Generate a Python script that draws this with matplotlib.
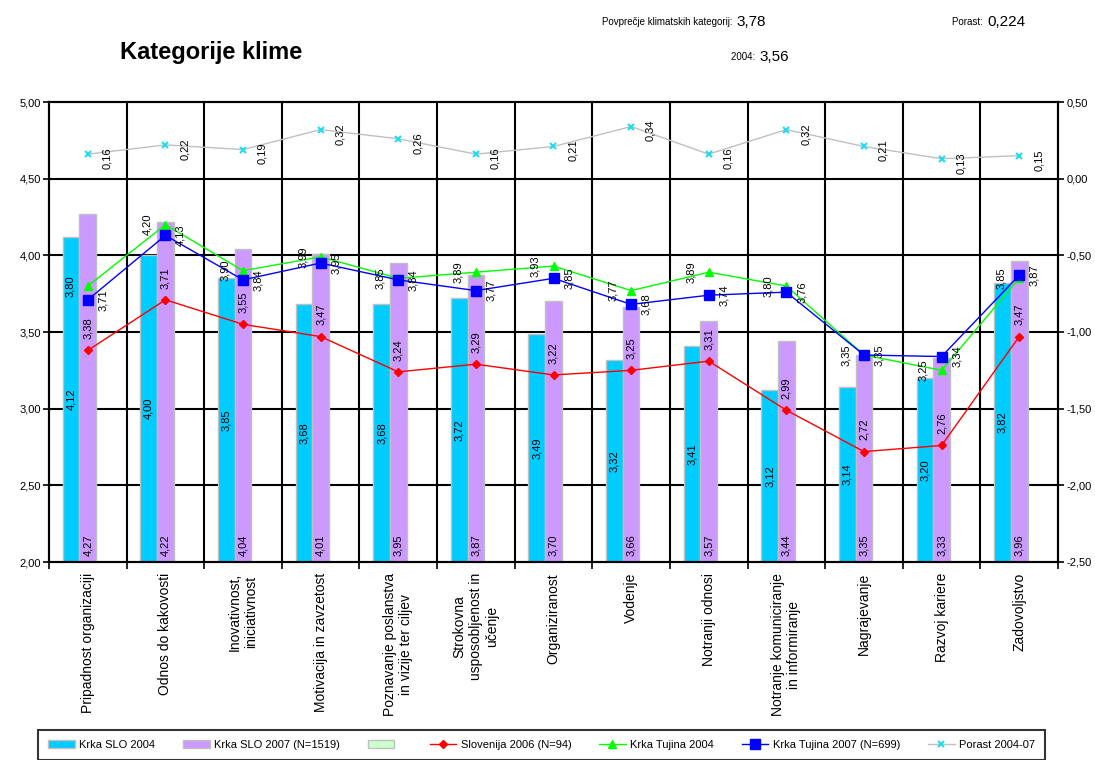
import matplotlib
matplotlib.use("Agg")
import matplotlib.pyplot as plt
from matplotlib.patches import Patch
from matplotlib.lines import Line2D
import numpy as np

plt.rcParams['font.family'] = ['Liberation Sans', 'DejaVu Sans']

# Kategorije
kategorije = [
    "Pripadnost organizaciji",
    "Odnos do kakovosti",
    "Inovativnost,\niniciativnost",
    "Motivacija in zavzetost",
    "Poznavanje poslanstva\nin vizije ter ciljev",
    "Strokovna\nusposobljenost in\nučenje",
    "Organiziranost",
    "Vodenje",
    "Notranji odnosi",
    "Notranje komuniciranje\nin informiranje",
    "Nagrajevanje",
    "Razvoj kariere",
    "Zadovoljstvo",
]

# Stolpci
krka_slo_2004 = [4.12, 4.00, 3.85, 3.68, 3.68, 3.72, 3.49, 3.32, 3.41, 3.12, 3.14, 3.20, 3.82]
krka_slo_2007 = [4.27, 4.22, 4.04, 4.01, 3.95, 3.87, 3.70, 3.66, 3.57, 3.44, 3.35, 3.33, 3.96]

# Črte
slovenija_2006 = [3.38, 3.71, 3.55, 3.47, 3.24, 3.29, 3.22, 3.25, 3.31, 2.99, 2.72, 2.76, 3.47]
krka_tujina_2004 = [3.80, 4.20, 3.90, 3.99, 3.85, 3.89, 3.93, 3.77, 3.89, 3.80, 3.35, 3.25, 3.85]
krka_tujina_2007 = [3.71, 4.13, 3.84, 3.95, 3.84, 3.77, 3.85, 3.68, 3.74, 3.76, 3.35, 3.34, 3.87]

# Porast 2004-07 (desna os)
porast = [0.16, 0.22, 0.19, 0.32, 0.26, 0.16, 0.21, 0.34, 0.16, 0.32, 0.21, 0.13, 0.15]

levi_ticki = [2.00, 2.50, 3.00, 3.50, 4.00, 4.50, 5.00]
desni_ticki = [-2.50, -2.00, -1.50, -1.00, -0.50, 0.00, 0.50]


def fmt(v):
    return f"{v:.2f}".replace('.', ',')


fig = plt.figure(figsize=(10.95, 7.6), dpi=100)
ax = fig.add_axes([49 / 1095, 1 - 562 / 760, 1009 / 1095, 460 / 760])
ax2 = ax.twinx()

x = np.arange(len(kategorije))
sirina = 0.215

ax.bar(x - sirina, [v - 2 for v in krka_slo_2004], sirina, bottom=2,
       color='#00CCFF', edgecolor='#C0C0C0', linewidth=1, zorder=2)
ax.bar(x, [v - 2 for v in krka_slo_2007], sirina, bottom=2,
       color='#CC99FF', edgecolor='#C0C0C0', linewidth=1, zorder=2)

ax.plot(x, slovenija_2006, color='#FF0000', lw=1, marker='D', ms=4, zorder=4)
ax.plot(x, krka_tujina_2004, color='#00FF00', lw=1, marker='^', ms=6, zorder=4)
ax.plot(x, krka_tujina_2007, color='#0000FF', lw=1, marker='s', ms=7, zorder=5)

ax2.plot(x, porast, color='#C0C0C0', lw=1, marker='x', ms=5, mec='#22DDEE', mew=1.5, zorder=4)

# mreža
ax.set_xlim(-0.5, len(kategorije) - 0.5)
ax.set_ylim(2, 5)
ax2.set_ylim(-2.5, 0.5)
ax.set_axisbelow(True)
for y in levi_ticki[1:-1]:
    ax.axhline(y, color='black', lw=1.5, zorder=0)
for b in np.arange(0.5, len(kategorije) - 1, 1):
    ax.axvline(b, color='black', lw=1.5, zorder=0)

ax.set_yticks(levi_ticki)
ax.set_yticklabels([fmt(v) for v in levi_ticki], fontsize=8)
ax2.set_yticks(desni_ticki)
ax2.set_yticklabels([fmt(v) for v in desni_ticki], fontsize=8)
ax.tick_params(axis='y', direction='out', length=4, width=1.2, pad=2)
ax2.tick_params(axis='y', direction='out', length=4, width=1.2, pad=2)

ax.set_xticks(np.arange(-0.5, len(kategorije), 1))
ax.set_xticklabels([])
ax.tick_params(axis='x', direction='out', length=5, width=1.2)
for i, k in enumerate(kategorije):
    ax.annotate(k, (i, 2), xytext=(0, -8), textcoords='offset points',
                rotation=90, ha='center', va='top', multialignment='center',
                fontsize=10, annotation_clip=False)

for s in list(ax.spines.values()) + list(ax2.spines.values()):
    s.set_linewidth(1.5)
    s.set_color('black')

# oznake vrednosti
lab = dict(rotation=90, fontsize=8, textcoords='offset points', zorder=6)
for i in range(len(kategorije)):
    a = krka_slo_2004[i]
    ax.annotate(fmt(a), (i - sirina, (2 + a) / 2), xytext=(0, 0), ha='center', va='center', **lab)
    b = krka_slo_2007[i]
    ax.annotate(fmt(b), (i, 2), xytext=(0, 4), ha='center', va='bottom', **lab)
    ax.annotate(fmt(slovenija_2006[i]), (i, slovenija_2006[i]), xytext=(0, 8),
                ha='center', va='bottom', **lab)
    ax.annotate(fmt(krka_tujina_2004[i]), (i, krka_tujina_2004[i]), xytext=(-13, 0),
                ha='center', va='center', **lab)
    ax.annotate(fmt(krka_tujina_2007[i]), (i, krka_tujina_2007[i]), xytext=(11, 0),
                ha='center', va='center', **lab)
    ax2.annotate(fmt(porast[i]), (i, porast[i]), xytext=(14, -3),
                 ha='center', va='center', **lab)

# naslov in povprečja
fig.text(120 / 1095, 1 - 52 / 760, "Kategorije klime", fontsize=17, fontweight='bold',
         va='center', ha='left')
fig.text(735 / 1095, 1 - 22 / 760, "Povprečje klimatskih kategorij: ", fontsize=7, ha='right', va='center')
fig.text(736 / 1095, 1 - 22 / 760, "3,78", fontsize=11, ha='left', va='center')
fig.text(758 / 1095, 1 - 57 / 760, "2004: ", fontsize=7, ha='right', va='center')
fig.text(759 / 1095, 1 - 57 / 760, "3,56", fontsize=11, ha='left', va='center')
fig.text(986 / 1095, 1 - 22 / 760, "Porast: ", fontsize=7, ha='right', va='center')
fig.text(987 / 1095, 1 - 22 / 760, "0,224", fontsize=11, ha='left', va='center')

# legenda
rocaji = [
    Patch(facecolor='#00CCFF', edgecolor='#C0C0C0'),
    Patch(facecolor='#CC99FF', edgecolor='#C0C0C0'),
    Patch(facecolor='#CCFFCC', edgecolor='#C0C0C0'),
    Line2D([], [], color='#FF0000', lw=1, marker='D', ms=4),
    Line2D([], [], color='#00FF00', lw=1, marker='^', ms=6),
    Line2D([], [], color='#0000FF', lw=1, marker='s', ms=7),
    Line2D([], [], color='#C0C0C0', lw=1, marker='x', ms=5, mec='#22DDEE', mew=1.5),
]
imena = ["Krka SLO 2004", "Krka SLO 2007 (N=1519)", " ", "Slovenija 2006 (N=94)",
         "Krka Tujina 2004", "Krka Tujina 2007 (N=699)", "Porast 2004-07"]
leg = fig.legend(rocaji, imena, loc='upper left',
                 bbox_to_anchor=(38 / 1095, 0, 1007 / 1095, 1 - 730 / 760), mode='expand',
                 ncol=7, fontsize=8, frameon=True, fancybox=False, edgecolor='black',
                 handlelength=2.4, borderpad=0.9, handletextpad=0.4,
                 borderaxespad=0)
leg.get_frame().set_linewidth(1.5)

fig.savefig("out.png", dpi=100)
